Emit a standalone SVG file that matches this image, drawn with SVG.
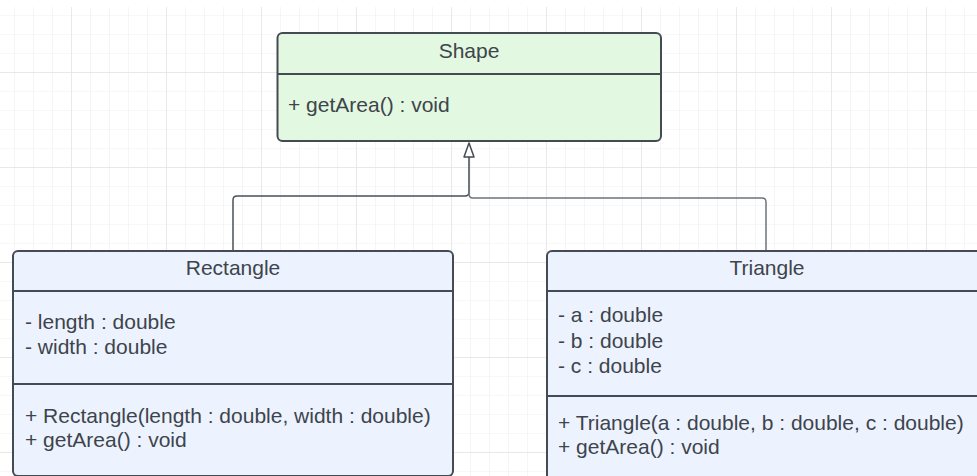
<svg xmlns="http://www.w3.org/2000/svg" width="977" height="476" viewBox="0 0 977 476">
  <defs>
    <pattern id="minor" x="14" y="15" width="19" height="19" patternUnits="userSpaceOnUse">
      <path d="M0 0V19M0 0H19" fill="none" stroke="#efefef" stroke-width="1.2"/>
    </pattern>
    <pattern id="major" x="71" y="72" width="95" height="95" patternUnits="userSpaceOnUse">
      <path d="M0 0V95M0 0H95" fill="none" stroke="#e4e4e4" stroke-width="1.4"/>
    </pattern>
  </defs>
  <style>
    .box { stroke: #454b53; stroke-width: 2; }
    .div { stroke: #454b53; stroke-width: 2; }
    .green { fill: #e2f8e0; }
    .blue { fill: #ecf3fe; }
    text { font-family: "Liberation Sans", Arial, sans-serif; font-size: 21px; fill: #3e444c; }
    .title { text-anchor: middle; }
    .conn { fill: none; stroke-width: 1.5; }
  </style>

  <!-- background grid -->
  <rect x="0" y="0" width="977" height="476" fill="#ffffff"/>
  <rect x="0" y="7" width="977" height="469" fill="url(#minor)"/>
  <rect x="0" y="7" width="977" height="469" fill="url(#major)"/>

  <!-- generalisation connectors -->
  <g id="connectors">
    <path class="conn" stroke="#4a5058" d="M233 251V200Q233 196 237 196H465Q469 196 469 192V157"/>
    <path class="conn" stroke="#6e747c" d="M766 251V202Q766 198 762 198H473Q469 198 469 194V157"/>
    <path d="M469 143L474 157H464Z" fill="#ffffff" stroke="#454b53" stroke-width="1.5" stroke-linejoin="round"/>
  </g>

  <g id="shape">
    <rect class="box green" x="277.5" y="33" width="383.5" height="108" rx="5"/>
    <line class="div" x1="277.5" y1="74" x2="661" y2="74"/>
    <text class="title" x="469" y="58">Shape</text>
    <text x="288" y="112">+ getArea() : void</text>
  </g>

  <g id="rectangle">
    <rect class="box blue" x="13" y="251" width="440" height="225" rx="5"/>
    <line class="div" x1="13" y1="291" x2="453" y2="291"/>
    <line class="div" x1="13" y1="384" x2="453" y2="384"/>
    <text class="title" x="233" y="275">Rectangle</text>
    <text x="25" y="329">- length : double</text>
    <text x="25" y="354">- width : double</text>
    <text x="25" y="423">+ Rectangle(length : double, width : double)</text>
    <text x="25" y="447">+ getArea() : void</text>
  </g>

  <g id="triangle">
    <rect class="box blue" x="547" y="251" width="440" height="240" rx="5"/>
    <line class="div" x1="547" y1="291" x2="987" y2="291"/>
    <line class="div" x1="547" y1="396" x2="987" y2="396"/>
    <text class="title" x="767" y="275">Triangle</text>
    <text x="558" y="322">- a : double</text>
    <text x="558" y="348">- b : double</text>
    <text x="558" y="373">- c : double</text>
    <text x="558" y="430">+ Triangle(a : double, b : double, c : double)</text>
    <text x="558" y="454">+ getArea() : void</text>
  </g>
</svg>
